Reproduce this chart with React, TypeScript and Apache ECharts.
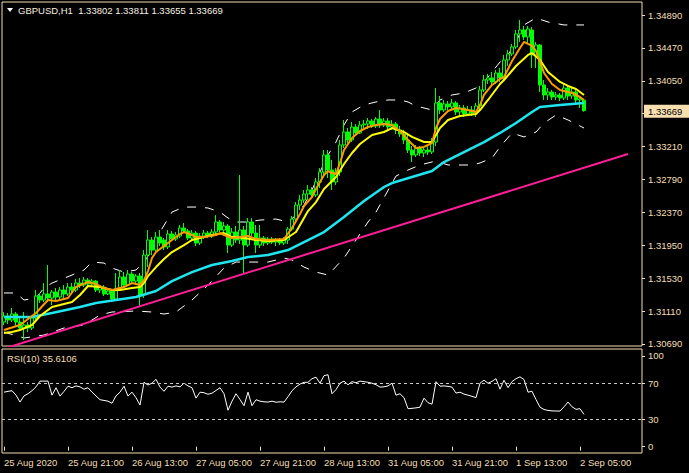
import React, { useEffect, useRef } from "react";
import * as echarts from "echarts";

const SYMBOL = "GBPUSD,H1";
const TICK_LABELS = [
  "25 Aug 2020", "25 Aug 21:00", "26 Aug 13:00", "27 Aug 05:00", "27 Aug 21:00",
  "28 Aug 13:00", "31 Aug 05:00", "31 Aug 21:00", "1 Sep 13:00", "2 Sep 05:00",
];
const TICK_STEP = 16;
const SLOT_COUNT = 160;
const PRICE_TICKS = [1.3069, 1.3111, 1.3153, 1.3195, 1.3237, 1.3279, 1.3321, 1.3363, 1.3405, 1.3447, 1.3489];
const HIDDEN_PRICE_LABEL = 1.3363; // covered by the current-price box in the reference
const RSI_TICKS = [0, 30, 70, 100];
const RSI_LEVELS = [70, 30];
const RSI_PERIOD = 10;
const RSI_LAST = 35.6106;

// [open, close, low, high]
const CANDLES: number[][] = [
  [1.30970, 1.31047, 1.30932, 1.31097], [1.31047, 1.30996, 1.30945, 1.31085], [1.30996, 1.31072, 1.30970, 1.31149],
  [1.31072, 1.30970, 1.30919, 1.31097], [1.30970, 1.30894, 1.30855, 1.31022], [1.30894, 1.30932, 1.30740, 1.31097],
  [1.30932, 1.30894, 1.30842, 1.30970], [1.30894, 1.31022, 1.30868, 1.31047], [1.31022, 1.31302, 1.30996, 1.31379],
  [1.31302, 1.31251, 1.31213, 1.31341], [1.31251, 1.31328, 1.31225, 1.31468], [1.31328, 1.31277, 1.31225, 1.31698],
  [1.31277, 1.31353, 1.31187, 1.31379], [1.31353, 1.31289, 1.31251, 1.31404], [1.31289, 1.31379, 1.31264, 1.31417],
  [1.31379, 1.31328, 1.31277, 1.31442], [1.31328, 1.31417, 1.31302, 1.31468], [1.31417, 1.31379, 1.31341, 1.31468],
  [1.31379, 1.31468, 1.31353, 1.31519], [1.31468, 1.31442, 1.31404, 1.31532], [1.31442, 1.31506, 1.31417, 1.31545],
  [1.31506, 1.31455, 1.31417, 1.31532], [1.31455, 1.31493, 1.31430, 1.31519], [1.31493, 1.31379, 1.31353, 1.31506],
  [1.31379, 1.31417, 1.31341, 1.31442], [1.31417, 1.31328, 1.31302, 1.31442], [1.31328, 1.31366, 1.31315, 1.31391],
  [1.31366, 1.31264, 1.31238, 1.31391], [1.31264, 1.31391, 1.31251, 1.31596], [1.31391, 1.31545, 1.31366, 1.31634],
  [1.31545, 1.31442, 1.31417, 1.31608], [1.31442, 1.31583, 1.31430, 1.31634], [1.31583, 1.31493, 1.31468, 1.31608],
  [1.31493, 1.31557, 1.31455, 1.31583], [1.31557, 1.31315, 1.31162, 1.31596], [1.31315, 1.31825, 1.31277, 1.31889],
  [1.31825, 1.32017, 1.31672, 1.32145], [1.32017, 1.31889, 1.31825, 1.32055], [1.31889, 1.32055, 1.31851, 1.32119],
  [1.32055, 1.31979, 1.31940, 1.32145], [1.32017, 1.31928, 1.31889, 1.32043], [1.31928, 1.32094, 1.31902, 1.32145],
  [1.32094, 1.32030, 1.32004, 1.32132], [1.32030, 1.32081, 1.32004, 1.32119], [1.32068, 1.32170, 1.32043, 1.32209],
  [1.32170, 1.32132, 1.32106, 1.32234], [1.32132, 1.32043, 1.32017, 1.32157], [1.32043, 1.32106, 1.32017, 1.32145],
  [1.32106, 1.31979, 1.31940, 1.32132], [1.31979, 1.32068, 1.31953, 1.32106], [1.32068, 1.32106, 1.32030, 1.32145],
  [1.32106, 1.32068, 1.32043, 1.32132], [1.32068, 1.32119, 1.32043, 1.32157], [1.32119, 1.32247, 1.32094, 1.32336],
  [1.32247, 1.32145, 1.32119, 1.32272], [1.32145, 1.32196, 1.32106, 1.32247], [1.32196, 1.31953, 1.31851, 1.32221],
  [1.31953, 1.32119, 1.31928, 1.32170], [1.32119, 1.32017, 1.31979, 1.32196], [1.32017, 1.32145, 1.31966, 1.32847],
  [1.32145, 1.31953, 1.31596, 1.32196], [1.31953, 1.32247, 1.31928, 1.32298], [1.32247, 1.32106, 1.32068, 1.32298],
  [1.32106, 1.31953, 1.31851, 1.32209], [1.31953, 1.32043, 1.31915, 1.32209], [1.32043, 1.31979, 1.31940, 1.32068],
  [1.31979, 1.32030, 1.31953, 1.32055], [1.32030, 1.31991, 1.31966, 1.32055], [1.31991, 1.32017, 1.31940, 1.32043],
  [1.32017, 1.31979, 1.31953, 1.32043], [1.31979, 1.32017, 1.31953, 1.32055], [1.32017, 1.32157, 1.31966, 1.32183],
  [1.32157, 1.32285, 1.32132, 1.32323], [1.32285, 1.32464, 1.32260, 1.32502], [1.32464, 1.32528, 1.32400, 1.32592],
  [1.32528, 1.32604, 1.32490, 1.32656], [1.32604, 1.32656, 1.32528, 1.32719], [1.32656, 1.32592, 1.32554, 1.32694],
  [1.32592, 1.32758, 1.32566, 1.32809], [1.32758, 1.32885, 1.32681, 1.32936], [1.32885, 1.33103, 1.32847, 1.33166],
  [1.33103, 1.32911, 1.32809, 1.33166], [1.32911, 1.32758, 1.32656, 1.33039], [1.32758, 1.32885, 1.32719, 1.32936],
  [1.32885, 1.33230, 1.32834, 1.33294], [1.33230, 1.33396, 1.33192, 1.33550], [1.33396, 1.33294, 1.33256, 1.33447],
  [1.33294, 1.33460, 1.33268, 1.33524], [1.33460, 1.33384, 1.33345, 1.33498], [1.33384, 1.33486, 1.33371, 1.33537],
  [1.33486, 1.33498, 1.33447, 1.33550], [1.33498, 1.33537, 1.33435, 1.33575], [1.33537, 1.33473, 1.33447, 1.33562],
  [1.33473, 1.33562, 1.33447, 1.33588], [1.33562, 1.33486, 1.33447, 1.33677], [1.33486, 1.33537, 1.33460, 1.33575],
  [1.33537, 1.33460, 1.33422, 1.33575], [1.33460, 1.33498, 1.33422, 1.33550], [1.33498, 1.33422, 1.33371, 1.33524],
  [1.33422, 1.33371, 1.33333, 1.33473], [1.33371, 1.33294, 1.33243, 1.33422], [1.33294, 1.33166, 1.33128, 1.33384],
  [1.33166, 1.33103, 1.33013, 1.33217], [1.33103, 1.33192, 1.33077, 1.33230], [1.33192, 1.33128, 1.33090, 1.33217],
  [1.33128, 1.33166, 1.33077, 1.33205], [1.33166, 1.33141, 1.33103, 1.33217], [1.33141, 1.33268, 1.33115, 1.33320],
  [1.33268, 1.33767, 1.33217, 1.33958], [1.33767, 1.33677, 1.33626, 1.33856], [1.33677, 1.33754, 1.33652, 1.33805],
  [1.33754, 1.33716, 1.33677, 1.33792], [1.33716, 1.33767, 1.33690, 1.33818], [1.33767, 1.33652, 1.33613, 1.33792],
  [1.33652, 1.33703, 1.33600, 1.33741], [1.33703, 1.33626, 1.33588, 1.33741], [1.33626, 1.33677, 1.33600, 1.33728],
  [1.33677, 1.33639, 1.33600, 1.33728], [1.33639, 1.33728, 1.33588, 1.33767], [1.33728, 1.33933, 1.33677, 1.33984],
  [1.33933, 1.34060, 1.33907, 1.34124], [1.34060, 1.34086, 1.34009, 1.34137], [1.34086, 1.34035, 1.33984, 1.34162],
  [1.34035, 1.34150, 1.34009, 1.34188], [1.34150, 1.34086, 1.34035, 1.34214], [1.34086, 1.34316, 1.34060, 1.34380],
  [1.34316, 1.34393, 1.34239, 1.34444], [1.34393, 1.34482, 1.34367, 1.34520], [1.34482, 1.34648, 1.34457, 1.34699],
  [1.34648, 1.34699, 1.34546, 1.34827], [1.34699, 1.34610, 1.34571, 1.34750], [1.34610, 1.34712, 1.34520, 1.34750],
  [1.34699, 1.34380, 1.34214, 1.34737], [1.34380, 1.34507, 1.34214, 1.34546], [1.34507, 1.33997, 1.33907, 1.34520],
  [1.33997, 1.33869, 1.33805, 1.34060], [1.33869, 1.33907, 1.33805, 1.33958], [1.33907, 1.33843, 1.33805, 1.33933],
  [1.33843, 1.33869, 1.33805, 1.33907], [1.33869, 1.33831, 1.33792, 1.33894], [1.33831, 1.33958, 1.33805, 1.34022],
  [1.33958, 1.33856, 1.33805, 1.33997], [1.33856, 1.33907, 1.33818, 1.33958], [1.33907, 1.33805, 1.33767, 1.33933],
  [1.33805, 1.33818, 1.33703, 1.33856], [1.33802, 1.33669, 1.33655, 1.33811],
];

// [bar index, value]
const MA_FAST: number[][] = [
  [0, 1.30868], [4, 1.30932], [8, 1.31085], [11, 1.31251], [13, 1.31238], [16, 1.31277], [18, 1.31417],
  [21, 1.31481], [23, 1.31455], [25, 1.31404], [27, 1.31379], [28, 1.31391], [30, 1.31417], [32, 1.31468],
  [34, 1.31442], [35, 1.31506], [36, 1.31621], [37, 1.31787], [38, 1.31864], [40, 1.31940], [42, 1.32017],
  [44, 1.32094], [45, 1.32119], [47, 1.32081], [48, 1.32055], [50, 1.32055], [53, 1.32081], [54, 1.32106],
  [55, 1.32081], [57, 1.32043], [59, 1.32055], [61, 1.32068], [63, 1.32030], [66, 1.32017], [70, 1.32030],
  [72, 1.32170], [74, 1.32349], [75, 1.32451], [77, 1.32566], [78, 1.32668], [80, 1.32847], [81, 1.32898],
  [82, 1.32873], [83, 1.32860], [84, 1.33001], [85, 1.33166], [87, 1.33320], [89, 1.33409], [91, 1.33460],
  [93, 1.33486], [95, 1.33498], [97, 1.33486], [99, 1.33409], [101, 1.33294], [103, 1.33192], [105, 1.33205],
  [107, 1.33256], [108, 1.33447], [109, 1.33562], [111, 1.33664], [113, 1.33703], [116, 1.33677], [118, 1.33652],
  [119, 1.33741], [120, 1.33869], [122, 1.33997], [124, 1.34073], [125, 1.34099], [127, 1.34303], [129, 1.34469],
  [130, 1.34546], [132, 1.34495], [133, 1.34431], [134, 1.34290], [135, 1.34150], [137, 1.34009], [139, 1.33933],
  [142, 1.33894], [144, 1.33843], [145, 1.33805],
];
const MA_MID: number[][] = [
  [0, 1.30830], [2, 1.30842], [4, 1.30868], [7, 1.30932], [9, 1.31047], [12, 1.31162], [14, 1.31187],
  [17, 1.31225], [19, 1.31315], [21, 1.31430], [24, 1.31417], [27, 1.31379], [29, 1.31379], [32, 1.31404],
  [34, 1.31417], [35, 1.31468], [36, 1.31557], [38, 1.31672], [40, 1.31774], [42, 1.31864], [45, 1.31953],
  [47, 1.32017], [50, 1.32055], [52, 1.32081], [55, 1.32106], [57, 1.32055], [60, 1.32043], [63, 1.32017],
  [66, 1.32004], [70, 1.32017], [73, 1.32119], [76, 1.32387], [78, 1.32502], [80, 1.32668], [83, 1.32822],
  [85, 1.32988], [87, 1.33128], [89, 1.33243], [92, 1.33358], [95, 1.33396], [97, 1.33447], [100, 1.33396],
  [102, 1.33333], [105, 1.33268], [107, 1.33268], [109, 1.33447], [111, 1.33550], [114, 1.33600], [118, 1.33626],
  [119, 1.33677], [121, 1.33805], [124, 1.34009], [125, 1.34060], [128, 1.34239], [131, 1.34380], [132, 1.34405],
  [134, 1.34316], [136, 1.34162], [139, 1.34035], [141, 1.33984], [143, 1.33945], [145, 1.33869],
];
const MA_SLOW: number[][] = [
  [0, 1.31034], [7, 1.31034], [12, 1.31085], [19, 1.31162], [23, 1.31213], [28, 1.31251], [33, 1.31289],
  [38, 1.31366], [42, 1.31493], [47, 1.31608], [52, 1.31698], [57, 1.31749], [61, 1.31800], [66, 1.31825],
  [71, 1.31889], [76, 1.32017], [80, 1.32119], [85, 1.32311], [90, 1.32515], [95, 1.32694], [97, 1.32745],
  [102, 1.32822], [107, 1.32898], [110, 1.33013], [116, 1.33166], [120, 1.33268], [124, 1.33384], [128, 1.33511],
  [132, 1.33652], [134, 1.33716], [139, 1.33741], [145, 1.33767],
];
const BAND_UPPER: number[][] = [
  [0, 1.31341], [3, 1.31341], [5, 1.31251], [8, 1.31277], [10, 1.31404], [12, 1.31468], [17, 1.31570],
  [20, 1.31634], [22, 1.31736], [25, 1.31723], [27, 1.31659], [30, 1.31608], [33, 1.31634], [35, 1.31736],
  [37, 1.31889], [39, 1.32119], [42, 1.32374], [45, 1.32438], [48, 1.32438], [51, 1.32426], [54, 1.32374],
  [56, 1.32298], [58, 1.32247], [61, 1.32247], [64, 1.32272], [68, 1.32285], [71, 1.32247], [73, 1.32336],
  [75, 1.32464], [77, 1.32656], [79, 1.32885], [81, 1.33103], [83, 1.33268], [85, 1.33486], [87, 1.33652],
  [90, 1.33741], [93, 1.33780], [96, 1.33805], [99, 1.33805], [101, 1.33780], [103, 1.33728], [105, 1.33703],
  [107, 1.33677], [109, 1.33805], [112, 1.33869], [115, 1.33894], [118, 1.33958], [120, 1.34035], [122, 1.34162],
  [124, 1.34290], [126, 1.34380], [128, 1.34546], [130, 1.34763], [133, 1.34852], [136, 1.34801], [140, 1.34763],
  [145, 1.34763],
];
const BAND_LOWER: number[][] = [
  [0, 1.30842], [5, 1.30766], [10, 1.30804], [15, 1.30894], [20, 1.30932], [24, 1.31060], [27, 1.31098],
  [33, 1.31111], [37, 1.31098], [40, 1.31072], [43, 1.31098], [47, 1.31251], [51, 1.31442], [55, 1.31659],
  [58, 1.31736], [62, 1.31736], [66, 1.31736], [70, 1.31787], [72, 1.31762], [75, 1.31672], [78, 1.31608],
  [81, 1.31570], [85, 1.31787], [88, 1.32017], [91, 1.32247], [93, 1.32374], [98, 1.32834], [101, 1.32911],
  [104, 1.32975], [108, 1.33026], [111, 1.32975], [114, 1.32975], [117, 1.32975], [119, 1.33001], [122, 1.33064],
  [124, 1.33205], [127, 1.33384], [130, 1.33333], [133, 1.33396], [135, 1.33511], [138, 1.33613], [141, 1.33550],
  [145, 1.33447],
];
const TRENDLINE: number[][] = [[0, 1.3063], [156, 1.33115]];

const RSI: number[][] = [
  [0, 60.1], [1, 61], [2, 61.7], [3, 56.8], [4, 49.2], [5, 56], [6, 58.4], [7, 61.7], [8, 66], [9, 72.3],
  [10, 72.3], [11, 72.3], [12, 56.8], [13, 65], [14, 55.8], [15, 61], [16, 66.7], [17, 65], [18, 67], [19, 66],
  [20, 63.4], [21, 65], [22, 60.1], [23, 56], [24, 51.8], [25, 51], [26, 50.2], [27, 47.9], [28, 56], [29, 60.1],
  [30, 66.7], [31, 55.8], [32, 60.1], [33, 54], [34, 45.9], [35, 71], [36, 68], [37, 70], [38, 74.3], [39, 65.7],
  [40, 61.1], [41, 66.7], [42, 65.7], [43, 67], [44, 66], [45, 70], [46, 67], [47, 65], [48, 53.5], [49, 60.1],
  [50, 59.5], [51, 57.8], [52, 59], [53, 62], [54, 65], [55, 58.4], [56, 40.2], [57, 50.2], [58, 58.4], [59, 52],
  [60, 45.2], [61, 60.1], [62, 45.2], [63, 51.8], [64, 50.2], [65, 49.5], [66, 49.2], [67, 50.2], [68, 49], [69, 49.5],
  [70, 49.2], [71, 55.1], [72, 61.7], [73, 66], [74, 69], [75, 71], [76, 71], [77, 75], [78, 76.6], [79, 70],
  [80, 78.3], [81, 79.3], [82, 58.4], [83, 63], [84, 70], [85, 72.3], [86, 68.3], [87, 71.7], [88, 70.5], [89, 72.3],
  [90, 71.7], [91, 71], [92, 70], [93, 68.3], [94, 65.7], [95, 66], [96, 67], [97, 70], [98, 56.8], [99, 58.4],
  [100, 54], [101, 41.9], [102, 42.3], [103, 42.8], [104, 43.6], [105, 53.5], [106, 48.5], [107, 46.9], [108, 71.7], [109, 66.7],
  [110, 67], [111, 66.5], [112, 65.7], [113, 59.1], [114, 60.1], [115, 58], [116, 56.8], [117, 55.5], [118, 54.1], [119, 70],
  [120, 73.3], [121, 70], [122, 72], [123, 75], [124, 63.4], [125, 73.3], [126, 65], [127, 71.7], [128, 75], [129, 77],
  [130, 74], [131, 60.1], [132, 61.1], [133, 52], [134, 43.6], [135, 41], [136, 40], [137, 39.5], [138, 39.3], [139, 39.3],
  [140, 44], [141, 49.2], [142, 44], [143, 41.2], [144, 41.9], [145, 35.6106],
];

const WHEAT = "#f5deb3";
const FONT = "'Liberation Sans', Arial, sans-serif";
const FS = 9.5;

export default function App() {
  const ref = useRef<HTMLDivElement>(null);
  useEffect(() => {
    document.body.style.margin = "0";
    document.body.style.background = "#000";
    if (!ref.current) return;
    const chart = echarts.init(ref.current, undefined, { renderer: "svg" });
    const categories = Array.from({ length: SLOT_COUNT }, (_, i) => String(i));
    const isTick = (index: number) => index % TICK_STEP === 0 && index / TICK_STEP < TICK_LABELS.length;
    const last = CANDLES[CANDLES.length - 1];
    const lineSeries = (data: number[][], color: string, width: number, z: number, dash?: any) => ({
      type: "line",
      xAxisIndex: 0,
      yAxisIndex: 0,
      data,
      symbol: "none",
      showSymbol: false,
      connectNulls: true,
      z,
      silent: true,
      lineStyle: { color, width, type: dash || "solid" },
    });
    chart.setOption({
      animation: false,
      backgroundColor: "#000",
      grid: [
        { left: 2, top: 2, width: 640, height: 344, show: true, borderColor: WHEAT, borderWidth: 1 },
        { left: 2, top: 349, width: 640, height: 104, show: true, borderColor: WHEAT, borderWidth: 1 },
      ],
      xAxis: [
        {
          type: "category", gridIndex: 0, data: categories, boundaryGap: true,
          axisLine: { show: false }, axisTick: { show: false }, axisLabel: { show: false }, splitLine: { show: false },
        },
        {
          type: "category", gridIndex: 1, data: categories, boundaryGap: true,
          axisLine: { show: false },
          axisTick: { show: true, interval: isTick, alignWithLabel: true, length: 4, lineStyle: { color: WHEAT } },
          axisLabel: {
            interval: isTick,
            formatter: (v: string) => TICK_LABELS[Number(v) / TICK_STEP] ?? "",
            color: WHEAT, fontSize: FS, fontFamily: FONT, align: "left", margin: 4,
          },
          splitLine: { show: false },
        },
      ],
      yAxis: [
        {
          type: "value", gridIndex: 0, position: "right", min: 1.30664, max: 1.35056,
          splitLine: { show: false }, axisLine: { show: false },
          axisTick: { show: true, customValues: PRICE_TICKS, length: 3, lineStyle: { color: WHEAT } },
          axisLabel: {
            customValues: PRICE_TICKS.filter((v) => v !== HIDDEN_PRICE_LABEL), formatter: (v: number) => v.toFixed(5),
            color: WHEAT, fontSize: FS, fontFamily: FONT, margin: 6,
          },
        },
        {
          type: "value", gridIndex: 1, position: "right", min: -6.95, max: 107.7,
          splitLine: { show: false }, axisLine: { show: false },
          axisTick: { show: true, customValues: RSI_TICKS, length: 3, lineStyle: { color: WHEAT } },
          axisLabel: {
            customValues: RSI_TICKS, formatter: (v: number) => String(v),
            color: WHEAT, fontSize: FS, fontFamily: FONT, margin: 6,
          },
        },
      ],
      series: [
        lineSeries(BAND_UPPER, "#ffffff", 1, 1, [9, 9]),
        lineSeries(BAND_LOWER, "#ffffff", 1, 1, [9, 9]),
        {
          type: "candlestick", xAxisIndex: 0, yAxisIndex: 0, data: CANDLES, barWidth: 3, z: 2, silent: true,
          itemStyle: { color: "#000000", color0: "#00ff00", borderColor: "#00ff00", borderColor0: "#00ff00", borderWidth: 1 },
        },
        lineSeries(MA_SLOW, "#1ee6f0", 2.5, 3),
        lineSeries(MA_MID, "#ffff00", 2, 4),
        lineSeries(MA_FAST, "#ff9a00", 2, 5),
        lineSeries(TRENDLINE, "#ff1e96", 2, 6),
        {
          type: "line", xAxisIndex: 1, yAxisIndex: 1, data: RSI, symbol: "none", showSymbol: false, silent: true,
          lineStyle: { color: "#ffffff", width: 1 },
          markLine: {
            silent: true, symbol: ["none", "none"], label: { show: false },
            lineStyle: { color: "#c8c8c8", width: 1, type: [3, 3] },
            data: RSI_LEVELS.map((v) => ({ yAxis: v })),
          },
        },
      ],
    });
    const py = chart.convertToPixel({ yAxisIndex: 0 }, last[1]) as number;
    chart.setOption({
      graphic: [
        { type: "polygon", shape: { points: [[7, 8], [13, 8], [10, 12]] }, style: { fill: "#ffffff" }, z: 100 },
        {
          type: "text", x: 18, y: 10, z: 100,
          style: {
            text: `${SYMBOL}  ${last[0].toFixed(5)} ${last[3].toFixed(5)} ${last[2].toFixed(5)} ${last[1].toFixed(5)}`,
            fill: "#f8f0e0", font: `${FS}px ${FONT}`, verticalAlign: "middle",
          },
        },
        {
          type: "text", x: 7, y: 358, z: 100,
          style: { text: `RSI(${RSI_PERIOD}) ${RSI_LAST.toFixed(4)}`, fill: WHEAT, font: `${FS}px ${FONT}`, verticalAlign: "middle" },
        },
        { type: "rect", shape: { x: 644, y: py - 6, width: 45, height: 13 }, style: { fill: "#f7dfb0" }, z: 100 },
        {
          type: "text", x: 648, y: py + 0.5, z: 101,
          style: { text: last[1].toFixed(5), fill: "#000000", font: `${FS}px ${FONT}`, verticalAlign: "middle" },
        },
      ],
    });
    return () => chart.dispose();
  }, []);
  return <div ref={ref} style={{ width: 689, height: 473, background: "#000" }} />;
}
